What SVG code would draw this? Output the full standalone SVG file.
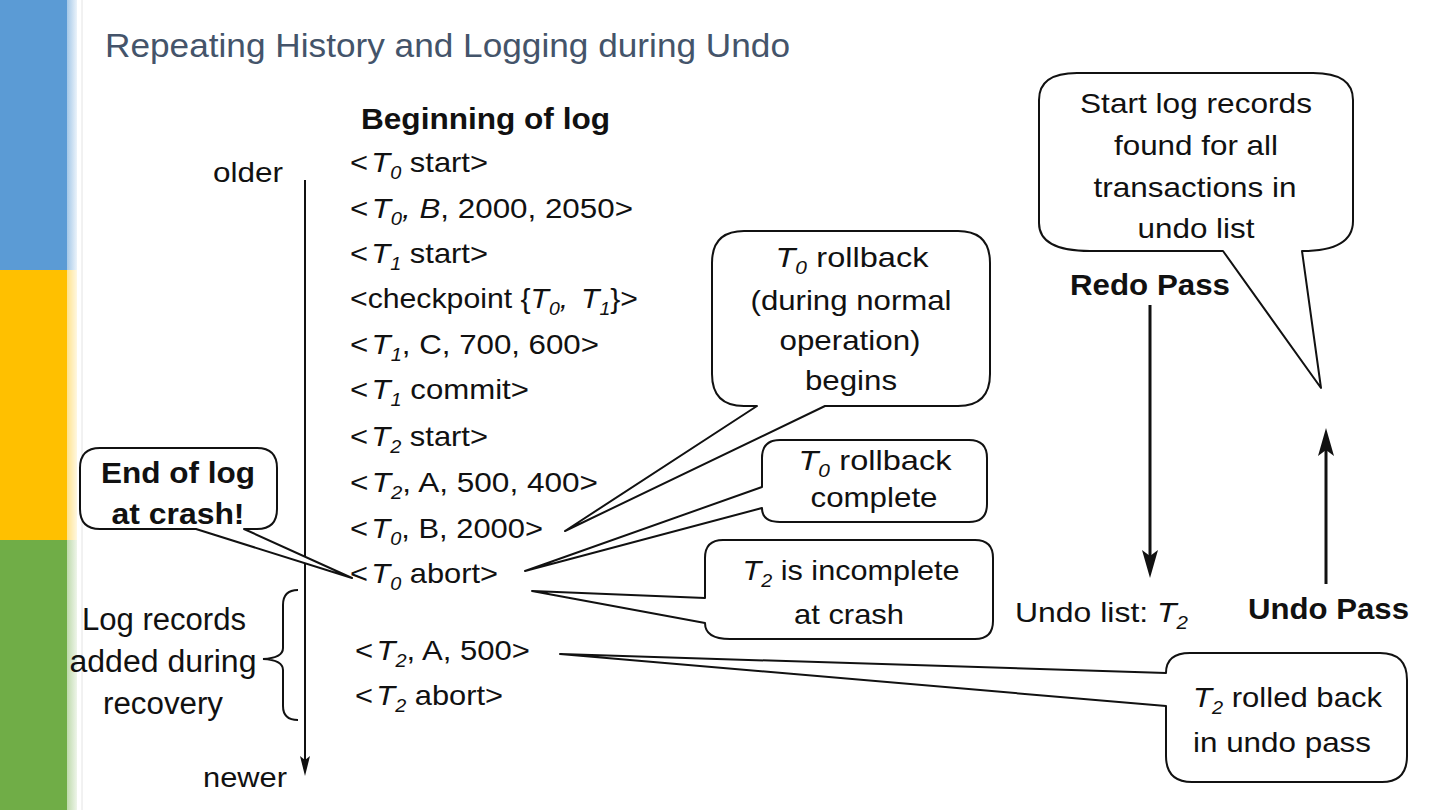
<svg xmlns="http://www.w3.org/2000/svg" width="1440" height="810" viewBox="0 0 1440 810">
<style>
.t{font-family:"Liberation Sans",Arial,Helvetica,sans-serif;fill:#111;}
.r{font-size:28px;}
.c{font-size:28px;}
.big{font-size:31px;}
.b{font-size:30px;font-weight:bold;}
.i{font-style:italic;}
.sub{font-size:18px;font-style:italic;}
.box{fill:#fff;stroke:#111;stroke-width:2;stroke-linejoin:round;}
.ln{fill:none;stroke:#111;stroke-width:2;}
.thick{fill:none;stroke:#111;stroke-width:3;}
.mid{text-anchor:middle;}
</style>
<defs>
<linearGradient id="gB" x1="0" x2="1"><stop offset="0" stop-color="#5B9BD5" stop-opacity="0.55"/><stop offset="1" stop-color="#5B9BD5" stop-opacity="0.12"/></linearGradient>
<linearGradient id="gY" x1="0" x2="1"><stop offset="0" stop-color="#FFC000" stop-opacity="0.45"/><stop offset="1" stop-color="#FFC000" stop-opacity="0.12"/></linearGradient>
<linearGradient id="gG" x1="0" x2="1"><stop offset="0" stop-color="#70AD47" stop-opacity="0.45"/><stop offset="1" stop-color="#70AD47" stop-opacity="0.12"/></linearGradient>
<marker id="ahSmall" markerWidth="20" markerHeight="10" refX="14" refY="5" orient="auto" markerUnits="userSpaceOnUse"><path d="M0,0 L20,5 L0,10 L4,5 Z" fill="#111"/></marker>
<marker id="ahBig" markerWidth="28" markerHeight="16" refX="18" refY="8" orient="auto" markerUnits="userSpaceOnUse"><path d="M0,0 L28,8 L0,16 L6,8 Z" fill="#111"/></marker>
</defs>
<rect width="1440" height="810" fill="#fff"/>
<g id="sidebar">
<rect x="0" y="0" width="67" height="270" fill="#5B9BD5"/>
<rect x="0" y="270" width="67" height="270" fill="#FFC000"/>
<rect x="0" y="540" width="67" height="270" fill="#70AD47"/>
<rect x="67" y="0" width="10" height="270" fill="url(#gB)"/>
<rect x="67" y="270" width="10" height="270" fill="url(#gY)"/>
<rect x="67" y="540" width="10" height="270" fill="url(#gG)"/>
<line x1="82" y1="0" x2="82" y2="810" stroke="#E4E4E4" stroke-width="1"/>
</g>
<text id="title" x="105" y="57" font-family="Liberation Sans,Arial,sans-serif" font-size="33" fill="#44546A" textLength="685" lengthAdjust="spacingAndGlyphs">Repeating History and Logging during Undo</text>
<g id="connectors">
<line class="ln" x1="305" y1="180" x2="305" y2="770" marker-end="url(#ahSmall)"/>
<line class="thick" x1="1150" y1="305" x2="1150" y2="568" marker-end="url(#ahBig)"/>
<line class="thick" x1="1326" y1="584" x2="1326" y2="438" marker-end="url(#ahBig)"/>
</g>
<g id="axis-labels">
<text class="t c" x="213" y="182" textLength="70" lengthAdjust="spacingAndGlyphs">older</text>
<text class="t c" x="203" y="787" textLength="84" lengthAdjust="spacingAndGlyphs">newer</text>
</g>
<g id="log">
<text class="t b" x="361" y="129" textLength="249" lengthAdjust="spacingAndGlyphs">Beginning of log</text>
<text class="t r" x="350" y="172" textLength="138" lengthAdjust="spacingAndGlyphs">&lt;<tspan class="i" dx="3">T</tspan><tspan class="sub" dy="7">0</tspan><tspan dy="-7"> start&gt;</tspan></text>
<text class="t r" x="350" y="218" textLength="283" lengthAdjust="spacingAndGlyphs">&lt;<tspan class="i" dx="3">T</tspan><tspan class="sub" dy="7">0</tspan><tspan dy="-7" class="i">, B</tspan>, 2000, 2050&gt;</text>
<text class="t r" x="350" y="263" textLength="138" lengthAdjust="spacingAndGlyphs">&lt;<tspan class="i" dx="3">T</tspan><tspan class="sub" dy="7">1</tspan><tspan dy="-7"> start&gt;</tspan></text>
<text class="t r" x="350" y="308" textLength="288" lengthAdjust="spacingAndGlyphs">&lt;checkpoint {<tspan class="i">T</tspan><tspan class="sub" dy="7">0</tspan><tspan dy="-7" class="i">, </tspan><tspan class="i" dx="4">T</tspan><tspan class="sub" dy="7">1</tspan><tspan dy="-7">}&gt;</tspan></text>
<text class="t r" x="350" y="354" textLength="249" lengthAdjust="spacingAndGlyphs">&lt;<tspan class="i" dx="3">T</tspan><tspan class="sub" dy="7">1</tspan><tspan dy="-7">, C, 700, 600&gt;</tspan></text>
<text class="t r" x="350" y="399" textLength="179" lengthAdjust="spacingAndGlyphs">&lt;<tspan class="i" dx="3">T</tspan><tspan class="sub" dy="7">1</tspan><tspan dy="-7"> commit&gt;</tspan></text>
<text class="t r" x="350" y="446" textLength="138" lengthAdjust="spacingAndGlyphs">&lt;<tspan class="i" dx="3">T</tspan><tspan class="sub" dy="7">2</tspan><tspan dy="-7"> start&gt;</tspan></text>
<text class="t r" x="350" y="492" textLength="248" lengthAdjust="spacingAndGlyphs">&lt;<tspan class="i" dx="3">T</tspan><tspan class="sub" dy="7">2</tspan><tspan dy="-7">, A, 500, 400&gt;</tspan></text>
<text class="t r" x="350" y="538" textLength="193" lengthAdjust="spacingAndGlyphs">&lt;<tspan class="i" dx="3">T</tspan><tspan class="sub" dy="7">0</tspan><tspan dy="-7">, B, 2000&gt;</tspan></text>
<text class="t r" x="350" y="583" textLength="148" lengthAdjust="spacingAndGlyphs">&lt;<tspan class="i" dx="3">T</tspan><tspan class="sub" dy="7">0</tspan><tspan dy="-7"> abort&gt;</tspan></text>
<text class="t r" x="355" y="660" textLength="175" lengthAdjust="spacingAndGlyphs">&lt;<tspan class="i" dx="3">T</tspan><tspan class="sub" dy="7">2</tspan><tspan dy="-7">, A, 500&gt;</tspan></text>
<text class="t r" x="355" y="705" textLength="148" lengthAdjust="spacingAndGlyphs">&lt;<tspan class="i" dx="3">T</tspan><tspan class="sub" dy="7">2</tspan><tspan dy="-7"> abort&gt;</tspan></text>
</g>
<g id="recovery-brace">
<path class="ln" d="M298,590 Q283,590 283,605 V648 Q283,658 263,659 Q283,660 283,670 V706 Q283,720 298,720"/>
<text class="t big mid" x="164" y="630" textLength="164" lengthAdjust="spacingAndGlyphs">Log records</text>
<text class="t big mid" x="163" y="672" textLength="187" lengthAdjust="spacingAndGlyphs">added during</text>
<text class="t big mid" x="163" y="714" textLength="120" lengthAdjust="spacingAndGlyphs">recovery</text>
</g>
<g id="callout-end-of-log">
<path class="box" d="M100,448 H257 Q277,448 277,468 V509 Q277,529 257,529 H244 L352,578 L196,529 H100 Q80,529 80,509 V468 Q80,448 100,448 Z"/>
<text class="t b mid" x="178" y="483" textLength="154" lengthAdjust="spacingAndGlyphs">End of log</text>
<text class="t b mid" x="178" y="524" textLength="133" lengthAdjust="spacingAndGlyphs">at crash!</text>
</g>
<g id="callout-rollback-begins">
<path class="box" d="M744,231 H958 Q990,231 990,263 V374 Q990,406 958,406 H825 L565,531 L757,406 H744 Q712,406 712,374 V263 Q712,231 744,231 Z"/>
<text class="t c mid" x="852" y="267" textLength="153" lengthAdjust="spacingAndGlyphs"><tspan class="i">T</tspan><tspan class="sub" dy="7">0</tspan><tspan dy="-7" dx="8">rollback</tspan></text>
<text class="t c mid" x="851" y="310" textLength="201" lengthAdjust="spacingAndGlyphs">(during normal</text>
<text class="t c mid" x="850" y="350" textLength="141" lengthAdjust="spacingAndGlyphs">operation)</text>
<text class="t c mid" x="851" y="390" textLength="92" lengthAdjust="spacingAndGlyphs">begins</text>
</g>
<g id="callout-rollback-complete">
<path class="box" d="M780,440 H969 Q987,440 987,458 V504 Q987,522 969,522 H780 Q762,522 762,508 L525,571 L762,487 V458 Q762,440 780,440 Z"/>
<text class="t c mid" x="875" y="470" textLength="153" lengthAdjust="spacingAndGlyphs"><tspan class="i">T</tspan><tspan class="sub" dy="7">0</tspan><tspan dy="-7" dx="8">rollback</tspan></text>
<text class="t c mid" x="874" y="507" textLength="127" lengthAdjust="spacingAndGlyphs">complete</text>
</g>
<g id="callout-t2-incomplete">
<path class="box" d="M723,540 H975 Q993,540 993,558 V621 Q993,639 975,639 H730 Q705,639 705,623 L532,591 L705,598 V558 Q705,540 723,540 Z"/>
<text class="t c mid" x="851" y="580" textLength="217" lengthAdjust="spacingAndGlyphs"><tspan class="i">T</tspan><tspan class="sub" dy="7">2</tspan><tspan dy="-7"> is incomplete</tspan></text>
<text class="t c mid" x="849" y="624" textLength="110" lengthAdjust="spacingAndGlyphs">at crash</text>
</g>
<g id="callout-start-records">
<path class="box" d="M1077,73 H1313 Q1353,73 1353,100 V221 Q1353,251 1302,251 L1321,388 L1223,251 H1090 Q1039,251 1039,223 V100 Q1039,73 1077,73 Z"/>
<text class="t c mid" x="1196" y="113" textLength="232" lengthAdjust="spacingAndGlyphs">Start log records</text>
<text class="t c mid" x="1196" y="155" textLength="164" lengthAdjust="spacingAndGlyphs">found for all</text>
<text class="t c mid" x="1195" y="197" textLength="203" lengthAdjust="spacingAndGlyphs">transactions in</text>
<text class="t c mid" x="1196" y="238" textLength="117" lengthAdjust="spacingAndGlyphs">undo list</text>
</g>
<g id="passes">
<text class="t b" x="1070" y="295" textLength="160" lengthAdjust="spacingAndGlyphs">Redo Pass</text>
<text class="t b" x="1248" y="619" textLength="161" lengthAdjust="spacingAndGlyphs">Undo Pass</text>
<text class="t c" x="1015" y="622" textLength="173" lengthAdjust="spacingAndGlyphs">Undo list: <tspan class="i">T</tspan><tspan class="sub" dy="7">2</tspan></text>
</g>
<g id="callout-t2-rolled-back">
<path class="box" d="M1190,653 H1380 Q1407,653 1407,680 V756 Q1407,782 1382,782 H1192 Q1166,782 1166,756 V706 L560,654 L1166,673 Q1166,653 1190,653 Z"/>
<text class="t c" x="1193" y="707" textLength="189" lengthAdjust="spacingAndGlyphs"><tspan class="i">T</tspan><tspan class="sub" dy="7">2</tspan><tspan dy="-7"> rolled back</tspan></text>
<text class="t c" x="1193" y="752" textLength="178" lengthAdjust="spacingAndGlyphs">in undo pass</text>
</g>
</svg>
